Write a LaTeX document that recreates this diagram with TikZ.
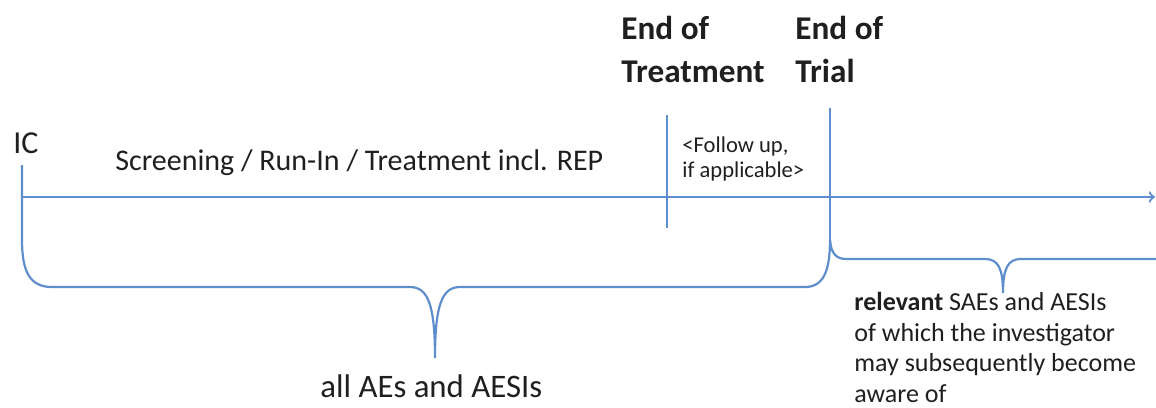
\documentclass[tikz,border=0pt]{standalone}
\usepackage{fontspec}
\setmainfont{Carlito}
\usepackage{tikz}
\definecolor{lineblue}{RGB}{95,142,204}

\begin{document}
\begin{tikzpicture}[x=0.5pt, y=-0.5pt, line/.style={draw=lineblue, line width=1.1pt}, txt/.style={inner sep=0pt, text=black!88, align=left, anchor=base west}, bigtxt/.style={txt, font=\fontsize{16.6}{21}\selectfont\bfseries}]

\useasboundingbox (0,0) rectangle (1156,407);

\coordinate (ictop) at (22,165);
\coordinate (t0) at (22,197);
\coordinate (tend) at (1155,197);
\coordinate (eottop) at (667,115);
\coordinate (eotbot) at (667,228);
\coordinate (eoxtop) at (830,108);
\coordinate (eoxbot) at (830,240);

% base west of a text block is its last baseline
\node[txt, font=\fontsize{16}{19}\selectfont] (ic) at (13,153) {IC};
\node[txt, font=\fontsize{15}{18}\selectfont] (screen) at (115,170) {Screening / Run-In / Treatment incl. REP};
\node[bigtxt] (eot) at (621,82) {End of\\Treatment};
\node[bigtxt] (eox) at (795,82) {End of\\Trial};
\node[txt, font=\fontsize{11.3}{12.5}\selectfont] (follow) at (682,177) {<Follow up,\\if applicable>};
\node[txt, font=\fontsize{16.4}{19}\selectfont] (allae) at (320,397) {all AEs and AESIs};
\node[txt, font=\fontsize{13}{15.2}\selectfont] (relae) at (854,402) {\textbf{relevant} SAEs and AESIs\\of which the investigator\\may subsequently become\\aware of};

\draw [line, ->] (t0) -- (tend);
\draw [line] (eottop) -- (eotbot);
\draw [line] (eoxtop) -- (eoxbot);

% brace below the trial
\draw [line] (ictop) -- (22,240) .. controls (22,272) and (30,287) .. (52,287) -- (410,287) .. controls (428,287) and (435,305) .. (435,358) .. controls (435,305) and (442,287) .. (460,287) -- (805,287) .. controls (823,287) and (830,272) .. (eoxbot);

% brace after the trial
\draw [line] (eoxbot) .. controls (831,253) and (836,259) .. (846,259) -- (985,259) .. controls (998,259) and (1003,268) .. (1003,293) .. controls (1003,268) and (1008,259) .. (1021,259) -- (1156,259);

\end{tikzpicture}
\end{document}
